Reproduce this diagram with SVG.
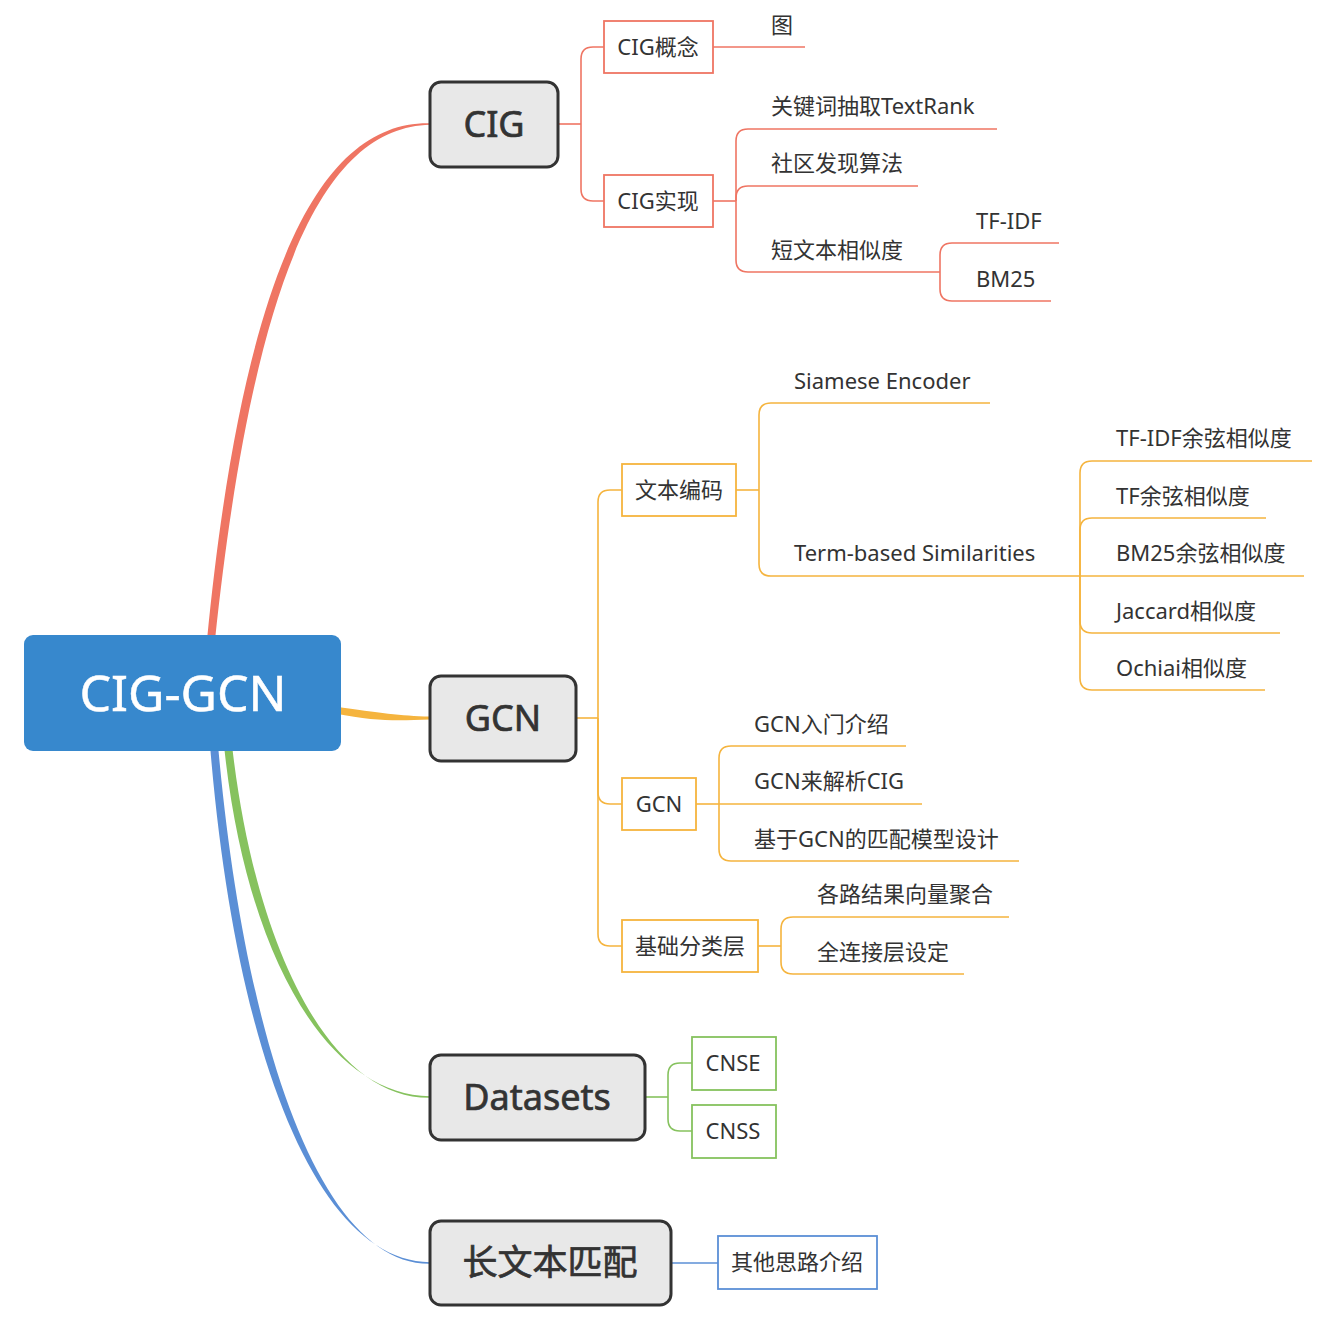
<svg xmlns="http://www.w3.org/2000/svg" width="1336" height="1332" viewBox="0 0 1336 1332">
<style>
text{font-family:"Noto Sans","Noto Sans CJK SC",sans-serif;fill:#333333}
.leaf{font-size:22px}
.box{font-size:22px;text-anchor:middle}
.main{font-size:36px;text-anchor:middle;stroke:#333333;stroke-width:0.7}
.root{font-size:50px;text-anchor:middle;fill:#ffffff;stroke:#ffffff;stroke-width:0.5}
.mrect{fill:#E8E8E8;stroke:#333333;stroke-width:3}
.r{stroke:#EF7563}
.o{stroke:#F5B43E}
.g{stroke:#86C25E}
.b{stroke:#5B8FD6}
.ln{fill:none;stroke-width:1.6}
.bx{fill:#ffffff;stroke-width:1.8}
</style>
<g id="connectors">
<path d="M207,640 C245,250 328,121 430,123.2 L430,124.8 C332,127.5 256,252 215,640 Z" fill="#EF7563"/>
<path d="M335,706.5 C380,713 400,715.8 430,716.6 L430,719.4 C400,720.5 378,722 335,713.5 Z" fill="#F5B43E"/>
<path d="M224,745 C245,952 326,1095 430,1096.2 L430,1097.8 C330,1099 255,948 232,745 Z" fill="#86C25E"/>
<path d="M210,745 C235,1052 316,1261 430,1262.2 L430,1263.8 C322,1265 245,1048 218,745 Z" fill="#5B8FD6"/>
<g class="ln r">
<path d="M558,124 H581"/>
<path d="M581,124 V59 Q581,47 593,47 H604"/>
<path d="M581,124 V189 Q581,201 593,201 H604"/>
<path d="M713,47 H805"/>
<path d="M713,201 H736"/>
<path d="M736,201 V141 Q736,129 748,129 H997"/>
<path d="M736,201 V198 Q736,186 748,186 H918"/>
<path d="M736,201 V260 Q736,272 748,272 H940"/>
<path d="M940,272 V255 Q940,243 952,243 H1059"/>
<path d="M940,272 V289 Q940,301 952,301 H1051"/>
</g>
<g class="ln o">
<path d="M576,718 H598"/>
<path d="M598,718 V502 Q598,490 610,490 H622"/>
<path d="M598,718 V792 Q598,804 610,804 H622"/>
<path d="M598,718 V934 Q598,946 610,946 H622"/>
<path d="M736,490 H759"/>
<path d="M759,490 V415 Q759,403 771,403 H990"/>
<path d="M759,490 V564 Q759,576 771,576 H1080"/>
<path d="M1080,576 V473 Q1080,461 1092,461 H1312"/>
<path d="M1080,576 V530 Q1080,518 1092,518 H1266"/>
<path d="M1080,576 H1304"/>
<path d="M1080,576 V621 Q1080,633 1092,633 H1280"/>
<path d="M1080,576 V678 Q1080,690 1092,690 H1265"/>
<path d="M696,804 H719"/>
<path d="M719,804 V758 Q719,746 731,746 H906"/>
<path d="M719,804 H922"/>
<path d="M719,804 V849 Q719,861 731,861 H1019"/>
<path d="M758,946 H781"/>
<path d="M781,946 V929 Q781,917 793,917 H1009"/>
<path d="M781,946 V962 Q781,974 793,974 H964"/>
</g>
<g class="ln g">
<path d="M645,1097 H668"/>
<path d="M668,1097 V1075 Q668,1063 680,1063 H692"/>
<path d="M668,1097 V1119 Q668,1131 680,1131 H692"/>
</g>
<g class="ln b">
<path d="M671,1263 H718"/>
</g>
</g>
<g id="root">
<rect x="24" y="635" width="317" height="116" rx="9" fill="#3788CD"/>
<text class="root" x="183" y="711">CIG-GCN</text>
</g>
<g id="n-cig">
<rect class="mrect" x="430" y="82" width="128" height="85" rx="11"/>
<text class="main" x="494" y="137">CIG</text>
</g>
<g id="n-gcn">
<rect class="mrect" x="430" y="676" width="146" height="85" rx="11"/>
<text class="main" x="503" y="731">GCN</text>
</g>
<g id="n-datasets">
<rect class="mrect" x="430" y="1055" width="215" height="85" rx="11"/>
<text class="main" x="537" y="1110">Datasets</text>
</g>
<g id="n-long">
<rect class="mrect" x="430" y="1221" width="241" height="84" rx="11"/>
<text class="main" x="550" y="1275" style="font-size:35px">长文本匹配</text>
</g>
<g id="n-cig-concept">
<rect class="bx r" x="604" y="21" width="109" height="52"/>
<text class="box" x="658" y="55">CIG概念</text>
</g>
<g id="n-tu"><text class="leaf" x="771" y="33">图</text></g>
<g id="n-cig-impl">
<rect class="bx r" x="604" y="175" width="109" height="52"/>
<text class="box" x="658" y="209">CIG实现</text>
</g>
<g id="n-textrank"><text class="leaf" x="771" y="114">关键词抽取TextRank</text></g>
<g id="n-community"><text class="leaf" x="771" y="171">社区发现算法</text></g>
<g id="n-shortsim"><text class="leaf" x="771" y="258">短文本相似度</text></g>
<g id="n-tfidf"><text class="leaf" x="976" y="229">TF-IDF</text></g>
<g id="n-bm25"><text class="leaf" x="976" y="287">BM25</text></g>
<g id="n-textenc">
<rect class="bx o" x="622" y="464" width="114" height="52"/>
<text class="box" x="679" y="498">文本编码</text>
</g>
<g id="n-siamese"><text class="leaf" x="794" y="389">Siamese Encoder</text></g>
<g id="n-termbased"><text class="leaf" x="794" y="561">Term-based Similarities</text></g>
<g id="n-tfidfcos"><text class="leaf" x="1116" y="446">TF-IDF余弦相似度</text></g>
<g id="n-tfcos"><text class="leaf" x="1116" y="504">TF余弦相似度</text></g>
<g id="n-bm25cos"><text class="leaf" x="1116" y="561">BM25余弦相似度</text></g>
<g id="n-jaccard"><text class="leaf" x="1116" y="619">Jaccard相似度</text></g>
<g id="n-ochiai"><text class="leaf" x="1116" y="676">Ochiai相似度</text></g>
<g id="n-gcnsub">
<rect class="bx o" x="622" y="778" width="74" height="52"/>
<text class="box" x="659" y="812">GCN</text>
</g>
<g id="n-gcnintro"><text class="leaf" x="754" y="732">GCN入门介绍</text></g>
<g id="n-gcncig"><text class="leaf" x="754" y="789">GCN来解析CIG</text></g>
<g id="n-gcnmatch"><text class="leaf" x="754" y="847">基于GCN的匹配模型设计</text></g>
<g id="n-cls">
<rect class="bx o" x="622" y="920" width="136" height="52"/>
<text class="box" x="690" y="954">基础分类层</text>
</g>
<g id="n-agg"><text class="leaf" x="817" y="902">各路结果向量聚合</text></g>
<g id="n-fc"><text class="leaf" x="817" y="960">全连接层设定</text></g>
<g id="n-cnse">
<rect class="bx g" x="692" y="1037" width="84" height="53"/>
<text class="box" x="733" y="1071">CNSE</text>
</g>
<g id="n-cnss">
<rect class="bx g" x="692" y="1105" width="84" height="53"/>
<text class="box" x="733" y="1139">CNSS</text>
</g>
<g id="n-other">
<rect class="bx b" x="718" y="1236" width="159" height="53"/>
<text class="box" x="797" y="1270">其他思路介绍</text>
</g>
</svg>
